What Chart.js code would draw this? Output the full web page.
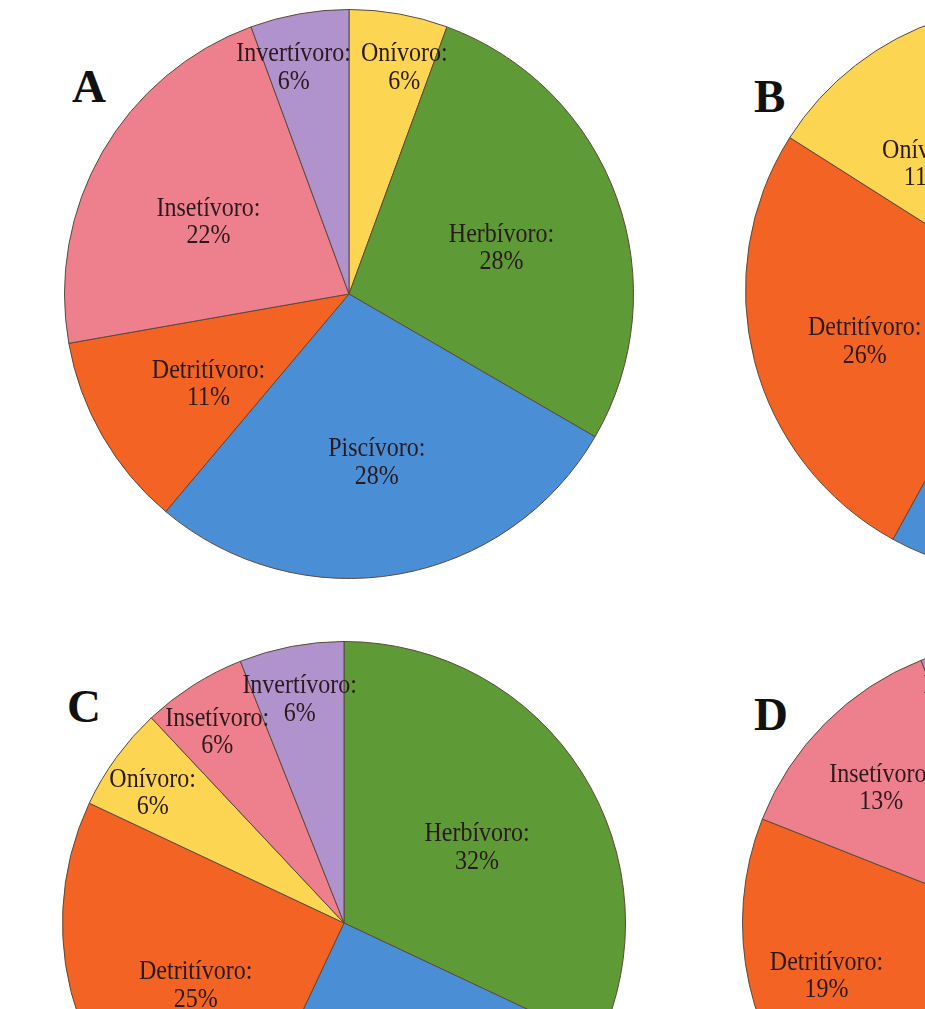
<!DOCTYPE html>
<html>
<head>
<meta charset="utf-8">
<script src="https://cdn.jsdelivr.net/npm/chart.js@4.4.1/dist/chart.umd.min.js"></script>
<style>
  html, body { margin: 0; padding: 0; background: #fff; }
  body { width: 925px; height: 1009px; overflow: hidden; position: relative; }
  .panel { position: absolute; }
  .letter {
    position: absolute;
    font-family: "Liberation Serif", "DejaVu Serif", serif;
    font-weight: bold;
    font-size: 47px;
    line-height: 1;
    color: #111;
  }
</style>
</head>
<body>
<div class="letter" style="left:72px;top:63px;">A</div>
<div class="letter" style="left:754px;top:73px;">B</div>
<div class="letter" style="left:67px;top:683px;">C</div>
<div class="letter" style="left:754px;top:691px;">D</div>

<div class="panel" style="left:64px;top:9px;"><canvas id="chartA" width="570" height="570"></canvas></div>
<div class="panel" style="left:745px;top:5px;"><canvas id="chartB" width="570" height="570"></canvas></div>
<div class="panel" style="left:62px;top:641px;"><canvas id="chartC" width="564" height="564"></canvas></div>
<div class="panel" style="left:742px;top:640px;"><canvas id="chartD" width="566" height="566"></canvas></div>

<script>
// Dados (percentagens)
const labelsA = ['Onívoro', 'Herbívoro', 'Piscívoro', 'Detritívoro', 'Insetívoro', 'Invertívoro'];
const valuesA = [5.6, 27.8, 27.8, 11.1, 22.2, 5.6];

const labelsB = ['Herbívoro', 'Piscívoro', 'Detritívoro', 'Onívoro', 'Invertívoro'];
const valuesB = [26, 32, 26, 11, 5];

const labelsC = ['Herbívoro', 'Piscívoro', 'Detritívoro', 'Onívoro', 'Insetívoro', 'Invertívoro'];
const valuesC = [32, 25, 25, 6, 6, 6];

const labelsD = ['Herbívoro', 'Piscívoro', 'Detritívoro', 'Insetívoro', 'Invertívoro'];
const valuesD = [31, 31, 19, 13, 6];

const guildColors = {
    'Onívoro': '#fcd652',
    'Herbívoro': '#5e9a35',
    'Piscívoro': '#4a8fd6',
    'Detritívoro': '#f26324',
    'Insetívoro': '#ee808e',
    'Invertívoro': '#b092cc'
};

// rótulos dentro das fatias, estilo Excel
const sliceLabels = {
    id: 'sliceLabels',
    afterDatasetsDraw(chart, args, opts) {
        const ctx = chart.ctx;
        const meta = chart.getDatasetMeta(0);
        const values = chart.data.datasets[0].data;
        const total = values.reduce((a, b) => a + b, 0);
        ctx.save();
        ctx.font = '24px "Liberation Serif", "DejaVu Serif", serif';
        ctx.fillStyle = '#2a1a1d';
        ctx.textAlign = 'center';
        ctx.textBaseline = 'middle';

        const boxes = meta.data.map((arc, i) => {
            const p = arc.getProps(['x', 'y', 'startAngle', 'endAngle', 'outerRadius'], true);
            const pct = Math.round(values[i] / total * 100);
            const mid = (p.startAngle + p.endAngle) / 2;
            const f = pct < 10 ? opts.small : opts.big;
            const line1 = chart.data.labels[i] + ':';
            return {
                x: p.x + Math.cos(mid) * p.outerRadius * f,
                y: p.y + Math.sin(mid) * p.outerRadius * f + 10,
                w: ctx.measureText(line1).width,
                line1: line1,
                line2: pct + '%'
            };
        });

        // afastar rótulos na mesma linha que se sobrepõem
        for (let i = 0; i < boxes.length; i++) {
            for (let j = i + 1; j < boxes.length; j++) {
                const a = boxes[i], b = boxes[j];
                if (Math.abs(a.y - b.y) >= 30) continue;
                const need = (a.w + b.w) / 2 + 10;
                const dx = b.x - a.x;
                if (Math.abs(dx) >= need) continue;
                const push = (need - Math.abs(dx)) / 2 * (dx >= 0 ? 1 : -1);
                a.x -= push;
                b.x += push;
            }
        }

        boxes.forEach(b => {
            ctx.save();
            ctx.translate(b.x, b.y);
            ctx.scale(1, 1.1);
            ctx.fillText(b.line1, 0, -13);
            ctx.fillText(b.line2, 0, 12);
            ctx.restore();
        });
        ctx.restore();
    }
};

function makePie(id, labels, values, big) {
    const canvas = document.getElementById(id).getContext('2d');
    new Chart(canvas, {
        type: 'pie',
        data: {
            labels: labels,
            datasets: [{
                data: values,
                backgroundColor: labels.map(l => guildColors[l]),
                borderColor: '#5b4a3c',
                borderWidth: 1
            }]
        },
        options: {
            responsive: false,
            animation: false,
            plugins: {
                legend: { display: false },
                tooltip: { enabled: false },
                sliceLabels: { big: big, small: 0.84 }
            }
        },
        plugins: [sliceLabels]
    });
}

makePie('chartA', labelsA, valuesA, 0.57);
makePie('chartB', labelsB, valuesB, 0.6);
makePie('chartC', labelsC, valuesC, 0.56);
makePie('chartD', labelsD, valuesD, 0.72);
</script>
</body>
</html>
